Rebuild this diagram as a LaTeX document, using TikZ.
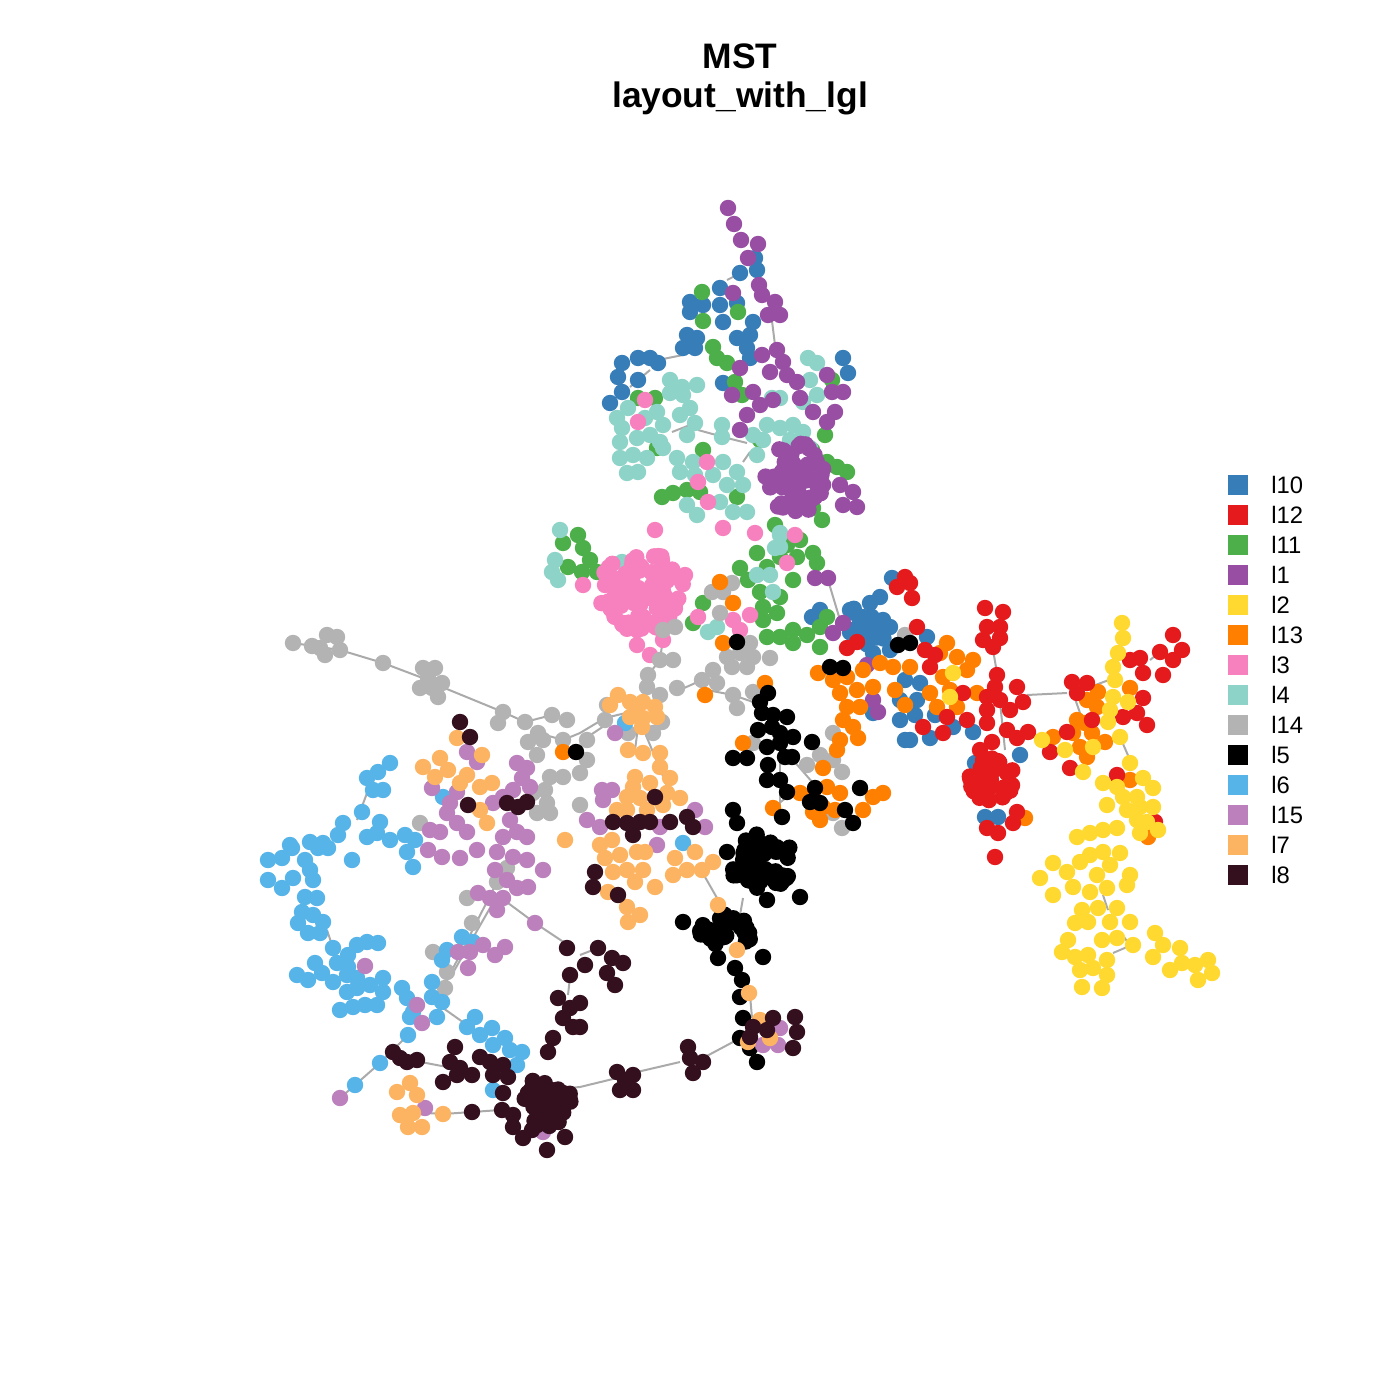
\documentclass[tikz,border=0pt]{standalone}
\usepackage{fontspec}
\setmainfont{Liberation Sans}
\definecolor{cI10}{HTML}{377EB8}
\definecolor{cI12}{HTML}{E41A1C}
\definecolor{cI11}{HTML}{4DAF4A}
\definecolor{cI1}{HTML}{984EA3}
\definecolor{cI2}{HTML}{FFD92F}
\definecolor{cI13}{HTML}{FF7F00}
\definecolor{cI3}{HTML}{F781BF}
\definecolor{cI4}{HTML}{8DD3C7}
\definecolor{cI14}{HTML}{B3B3B3}
\definecolor{cI5}{HTML}{000000}
\definecolor{cI6}{HTML}{56B4E9}
\definecolor{cI15}{HTML}{BC80BD}
\definecolor{cI7}{HTML}{FDB462}
\definecolor{cI8}{HTML}{34101F}
\definecolor{cedge}{HTML}{AAAAAA}
\tikzset{edge/.style={draw=cedge, line width=1pt}}
% dots of one cluster at given points
\newcommand{\pts}[2]{\foreach \p in {#2}{\fill[#1] \p circle[radius=4.1pt];}}
% dense part of a cluster: colour, centre x, centre y, radius x, radius y, count
\newcommand{\blob}[6]{\foreach \k in {1,...,#6}{%
  \pgfmathsetmacro\ba{360*rnd}\pgfmathsetmacro\br{sqrt(rnd)}%
  \fill[#1] ({#2+#4*\br*cos(\ba)},{#3+#5*\br*sin(\ba)}) circle[radius=4.1pt];}}

\begin{document}
\begin{tikzpicture}[x=0.5pt, y=-0.5pt]
\pgfmathsetseed{7}
\useasboundingbox (0,0) rectangle (1400,1400);
% title
\node[font=\bfseries\fontsize{17.7}{20}\selectfont, anchor=base] (title1) at (740,69) {MST};
\node[font=\bfseries\fontsize{17.7}{20}\selectfont, anchor=base] (title2) at (740,108) {layout\_with\_lgl};
% tree edges
\draw[edge] (293,643) -- (340,650) -- (383,663) -- (420,677) -- (442,687) -- (503,712) -- (525,722) -- (552,715);
\draw[edge] (538,733) -- (563,740) -- (580,733) -- (605,718) -- (630,712);
\draw[edge] (583,740) -- (607,724);
\draw[edge] (638,727) -- (635,750);
\draw[edge] (645,733) -- (670,793);
\draw[edge] (663,638) -- (660,660) -- (648,675) -- (647,690);
\draw[edge] (673,693) -- (702,680);
\draw[edge] (707,690) -- (733,695) -- (753,702);
\draw[edge] (828,580) -- (840,620);
\draw[edge] (780,760) -- (780,813);
\draw[edge] (793,760) -- (813,783);
\draw[edge] (773,808) -- (787,797);
\draw[edge] (993,650) -- (997,673);
\draw[edge] (1000,702) -- (1005,750);
\draw[edge] (1027,695) -- (1067,693);
\draw[edge] (1073,693) -- (1080,713);
\draw[edge] (1090,687) -- (1117,677);
\draw[edge] (1150,660) -- (1160,652);
\draw[edge] (1120,737) -- (1130,760);
\draw[edge] (1103,895) -- (1108,910);
\draw[edge] (1120,932) -- (1130,945);
\draw[edge] (1113,953) -- (1127,947);
\draw[edge] (327,930) -- (333,948);
\draw[edge] (443,1008) -- (467,1025);
\draw[edge] (340,1098) -- (355,1085) -- (380,1063) -- (408,1035);
\draw[edge] (400,1058) -- (447,1067);
\draw[edge] (427,1113) -- (443,1114) -- (472,1112) -- (500,1110);
\draw[edge] (508,903) -- (535,923) -- (565,943);
\draw[edge] (570,977) -- (568,995);
\draw[edge] (497,882) -- (443,988);
\draw[edge] (490,908) -- (450,978);
\draw[edge] (545,1090) -- (580,1087) -- (617,1078);
\draw[edge] (637,1072) -- (680,1062);
\draw[edge] (703,1058) -- (733,1042) -- (748,1040);
\draw[edge] (750,995) -- (752,1018);
\draw[edge] (705,877) -- (717,898);
\draw[edge] (743,898) -- (740,915);
\draw[edge] (727,280) -- (737,275);
\draw[edge] (770,305) -- (775,345);
\draw[edge] (658,360) -- (683,355);
\draw[edge] (630,387) -- (650,370);
\draw[edge] (672,432) -- (690,425);
\draw[edge] (698,430) -- (727,438) -- (747,443);
\draw[edge] (743,462) -- (750,452);
\draw[edge] (367,793) -- (357,820);
\draw[edge] (580,955) -- (598,948);
% I10
\pts{cI10}{(755,258),(740,273),(757,270),(720,288),(690,302),(690,312),(703,305),(720,305),(723,322),(737,303),(687,335),(697,338),(683,348),(695,348),(737,338),(750,335),(753,322),(747,348),(750,358),(622,363),(638,358),(650,358),(658,363),(618,377),(638,380),(622,392),(610,403),(723,383),(843,358),(848,373),(820,610),(812,617),(870,603),(880,597),(892,578),(850,610),(863,617),(853,630),(873,623),(883,620),(863,637),(880,633),(890,627),(873,653),(890,650),(873,713),(900,720),(905,740),(927,637),(920,683),(917,700),(910,740),(930,738),(953,727),(973,732),(1020,755),(975,763),(985,817),(998,817),(900,700),(915,715),(935,715),(905,680)}
\blob{cI10}{868}{625}{22}{22}{14}
% I11
\pts{cI11}{(702,292),(738,312),(703,321),(713,347),(717,358),(727,363),(735,382),(742,395),(832,380),(825,435),(638,398),(655,398),(657,448),(703,450),(662,497),(673,493),(687,490),(700,492),(737,497),(827,462),(837,467),(847,472),(813,508),(822,520),(563,543),(568,567),(578,535),(583,548),(590,560),(582,572),(597,572),(740,568),(757,553),(767,567),(780,557),(797,557),(813,553),(817,563),(793,580),(748,580),(760,592),(780,597),(763,607),(777,613),(763,620),(767,637),(780,637),(793,630),(807,635),(820,627),(820,647),(793,643),(703,603),(693,623),(775,525),(787,545),(800,540),(827,617),(760,440),(812,450)}
% I4
\pts{cI4}{(670,380),(682,387),(697,385),(670,393),(683,395),(690,408),(680,415),(695,423),(687,435),(617,418),(628,408),(622,428),(645,418),(657,412),(663,425),(620,442),(637,438),(650,435),(660,442),(620,458),(633,455),(647,458),(627,473),(638,472),(677,458),(680,472),(693,462),(695,475),(663,448),(722,425),(722,437),(753,435),(767,425),(780,428),(793,425),(803,432),(810,448),(757,455),(772,398),(780,398),(808,358),(817,363),(810,380),(817,395),(803,402),(723,462),(737,472),(713,475),(727,485),(743,485),(720,502),(733,512),(747,512),(687,505),(697,515),(780,535),(775,548),(770,575),(757,575),(773,592),(717,627),(708,632),(622,562),(560,530),(555,560),(552,572),(558,580),(780,533),(780,547),(763,440),(790,440)}
% I1
\pts{cI1}{(728,208),(734,224),(741,240),(758,244),(748,258),(759,285),(762,295),(775,302),(768,315),(780,315),(733,293),(762,355),(777,350),(783,362),(770,372),(787,375),(797,382),(753,392),(760,405),(773,400),(800,398),(813,412),(747,415),(740,430),(732,395),(740,368),(827,375),(843,392),(832,392),(835,412),(827,422),(840,485),(853,492),(857,507),(843,505),(815,578),(828,578),(833,633),(843,623),(867,665),(873,700),(878,712)}
\blob{cI1}{795}{478}{30}{36}{55}
% I3
\blob{cI3}{642}{592}{44}{40}{90}
\pts{cI3}{(583,585),(655,530),(637,645),(650,655),(663,640),(645,400),(638,422),(707,462),(698,482),(708,502),(733,620),(750,615),(740,630),(698,617),(787,563),(755,533),(723,528),(795,535),(605,585),(685,575)}
% I14
\pts{cI14}{(293,643),(312,646),(327,635),(337,637),(325,655),(340,650),(320,648),(383,663),(423,668),(435,668),(420,688),(432,688),(438,697),(442,683),(428,678),(503,712),(498,723),(525,722),(538,733),(552,715),(567,720),(528,742),(543,740),(537,755),(563,740),(550,777),(563,777),(580,805),(533,793),(547,803),(537,813),(550,813),(420,823),(587,740),(587,760),(580,773),(607,705),(605,720),(628,733),(653,733),(662,722),(663,630),(675,627),(660,660),(673,660),(648,675),(647,687),(660,695),(723,592),(732,583),(720,613),(712,592),(727,657),(740,653),(750,643),(753,657),(732,667),(747,667),(770,658),(713,670),(702,680),(717,683),(677,688),(733,695),(737,708),(753,692),(753,743),(807,765),(820,755),(833,760),(842,772),(833,733),(842,828),(833,813),(905,635),(497,882),(507,868),(467,898),(472,923),(433,952),(447,972),(445,988),(545,790)}
% I13
\pts{cI13}{(720,582),(733,603),(723,643),(563,752),(705,695),(765,683),(743,743),(818,673),(800,793),(813,797),(827,787),(840,793),(823,807),(835,810),(863,810),(873,797),(883,793),(813,812),(820,820),(773,808),(823,768),(833,680),(847,677),(863,670),(880,663),(893,667),(840,693),(857,690),(873,687),(847,707),(860,707),(843,720),(853,727),(840,740),(858,738),(837,750),(947,643),(940,653),(957,657),(967,670),(973,660),(943,677),(950,690),(930,693),(957,707),(937,707),(977,693),(910,667),(1087,700),(1098,692),(1097,707),(1077,720),(1085,723),(1073,733),(1092,733),(1105,742),(1080,747),(1087,757),(1053,737),(1130,688),(1130,780),(1148,837),(1025,818),(895,690),(905,705)}
% I12
\pts{cI12}{(897,587),(905,577),(847,648),(857,642),(910,583),(912,598),(917,627),(925,650),(930,667),(963,693),(967,720),(923,727),(943,733),(947,717),(985,608),(1003,612),(987,627),(1000,627),(983,640),(993,647),(1000,638),(997,675),(995,687),(1017,687),(987,697),(1000,700),(1023,702),(987,710),(1010,710),(987,723),(1007,730),(1017,738),(1028,732),(992,742),(980,750),(987,828),(998,833),(1013,823),(1017,812),(995,857),(1072,682),(1087,683),(1077,693),(1067,732),(1050,752),(1070,768),(1092,720),(1130,660),(1140,658),(1143,673),(1163,675),(1160,652),(1173,635),(1182,650),(1173,660),(1143,698),(1123,717),(1137,713),(1147,725),(1117,775),(1155,822),(935,655)}
\blob{cI12}{993}{780}{24}{22}{32}
% I2
\pts{cI2}{(953,673),(950,697),(1042,740),(1065,750),(1083,772),(1093,747),(1122,623),(1123,638),(1118,653),(1113,667),(1115,680),(1113,697),(1110,710),(1108,722),(1120,737),(1128,702),(1130,763),(1103,783),(1117,787),(1143,778),(1153,788),(1123,797),(1137,797),(1107,805),(1127,810),(1140,807),(1153,807),(1137,820),(1147,822),(1158,830),(1140,833),(1077,837),(1090,833),(1103,830),(1117,828),(1053,863),(1040,878),(1053,895),(1067,872),(1080,862),(1090,855),(1103,852),(1120,853),(1110,865),(1097,875),(1073,887),(1090,892),(1107,888),(1127,885),(1130,875),(1082,910),(1098,908),(1117,908),(1075,923),(1088,922),(1110,922),(1130,922),(1102,940),(1117,938),(1068,940),(1062,952),(1075,957),(1088,955),(1107,960),(1080,970),(1093,968),(1107,975),(1082,987),(1102,988),(1133,945),(1155,933),(1153,957),(1163,945),(1180,948),(1170,970),(1182,963),(1195,965),(1208,960),(1212,973),(1198,980)}
% I5
\pts{cI5}{(576,752),(737,642),(768,693),(760,702),(762,713),(773,715),(787,717),(758,730),(772,727),(780,733),(793,737),(767,747),(780,743),(812,742),(733,758),(747,758),(768,765),(785,757),(792,757),(767,780),(780,780),(787,792),(810,802),(820,803),(815,788),(860,788),(845,810),(853,823),(782,817),(733,810),(737,823),(830,667),(843,668),(898,645),(910,643),(800,897),(767,900),(727,852),(683,922),(718,958),(763,957),(735,968),(742,980),(740,997),(743,1018),(740,1038),(757,1062),(750,1048)}
\blob{cI5}{762}{862}{32}{30}{50}
\blob{cI5}{722}{932}{32}{20}{32}
% I6
\pts{cI6}{(390,763),(378,772),(367,778),(383,790),(373,790),(362,812),(443,797),(343,823),(380,822),(338,835),(367,837),(377,833),(390,840),(405,835),(415,840),(310,842),(323,843),(290,845),(268,860),(282,858),(292,848),(305,860),(318,848),(328,848),(352,860),(268,880),(282,888),(293,878),(310,870),(313,880),(305,897),(317,898),(302,912),(313,915),(298,923),(308,933),(323,922),(320,933),(333,948),(348,955),(357,945),(367,942),(378,943),(337,963),(348,967),(315,963),(297,975),(308,980),(322,973),(333,982),(347,975),(357,978),(347,992),(357,988),(340,1010),(353,1007),(365,1005),(377,1005),(370,985),(383,978),(383,992),(402,988),(407,998),(413,1012),(432,982),(432,997),(442,1002),(437,1017),(410,1017),(408,1035),(380,1063),(355,1085),(407,852),(413,867),(475,1017),(467,1027),(480,1035),(492,1028),(505,1038),(493,1045),(510,1050),(522,1052),(517,1065),(493,1090),(462,937),(473,942),(447,950),(442,960),(625,723),(683,843)}
% I15
\pts{cI15}{(467,752),(477,762),(432,788),(517,763),(527,768),(522,778),(530,787),(513,790),(503,797),(493,803),(457,792),(450,803),(447,813),(430,830),(440,832),(457,823),(467,832),(510,820),(517,832),(503,837),(527,837),(428,850),(442,857),(460,858),(477,850),(497,852),(513,857),(527,860),(543,870),(495,870),(507,880),(517,888),(528,887),(478,893),(490,898),(503,898),(497,910),(535,923),(458,952),(470,952),(483,945),(495,955),(505,947),(468,968),(365,966),(417,1005),(422,1023),(340,1098),(425,1108),(543,1132),(615,733),(602,790),(612,790),(603,800),(587,820),(600,827),(660,827),(695,810),(705,827),(657,845),(780,1028),(763,1045),(778,1045)}
% I7
\pts{cI7}{(457,738),(423,767),(440,758),(448,770),(435,777),(482,755),(467,775),(460,783),(480,787),(492,783),(480,810),(487,823),(565,840),(618,695),(630,702),(643,702),(655,707),(630,717),(643,718),(657,717),(642,727),(628,750),(643,753),(660,753),(660,767),(635,777),(633,787),(650,783),(670,778),(627,797),(640,798),(657,798),(667,793),(680,798),(617,810),(627,810),(647,810),(663,805),(610,705),(636,708),(600,845),(612,840),(605,858),(620,855),(637,852),(645,852),(613,872),(627,870),(643,870),(655,887),(635,882),(608,892),(627,907),(640,915),(628,922),(675,858),(687,870),(673,875),(702,870),(713,862),(695,852),(718,905),(737,950),(749,993),(760,1020),(770,1038),(748,1042),(397,1092),(410,1083),(417,1095),(400,1115),(413,1113),(408,1127),(422,1127),(443,1114)}
% I8
\pts{cI8}{(460,722),(470,737),(468,805),(507,803),(518,807),(527,802),(655,797),(613,822),(627,823),(640,822),(650,822),(670,822),(687,817),(693,827),(633,835),(595,872),(593,887),(618,895),(598,948),(612,958),(623,963),(585,965),(607,973),(615,985),(580,1003),(580,1027),(773,1018),(795,1017),(797,1032),(793,1048),(753,1027),(750,1037),(767,1030),(688,1047),(690,1058),(703,1062),(693,1073),(617,1072),(633,1075),(620,1090),(633,1090),(625,1080),(567,948),(570,975),(558,998),(570,1008),(563,1018),(573,1027),(553,1038),(548,1052),(393,1052),(407,1062),(417,1060),(400,1058),(455,1047),(450,1062),(460,1068),(443,1082),(457,1075),(472,1075),(480,1057),(490,1062),(503,1065),(493,1075),(508,1077),(503,1093),(472,1112),(502,1110),(513,1115),(513,1127),(523,1138),(532,1130),(547,1150),(565,1137)}
\blob{cI8}{548}{1100}{24}{28}{40}
% legend
\foreach \lab/\col [count=\i from 0] in {l10/cI10, l12/cI12, l11/cI11, l1/cI1, l2/cI2, l13/cI13, l3/cI3, l4/cI4, l14/cI14, l5/cI5, l6/cI6, l15/cI15, l7/cI7, l8/cI8}
{
  \fill[\col] (1228,{475+30*\i}) rectangle (1248,{495+30*\i});
  \node[anchor=west, inner sep=0pt, font=\fontsize{11.9}{13}\selectfont] (leg\i) at (1271,{485+30*\i}) {\lab};
}
\end{tikzpicture}
\end{document}
